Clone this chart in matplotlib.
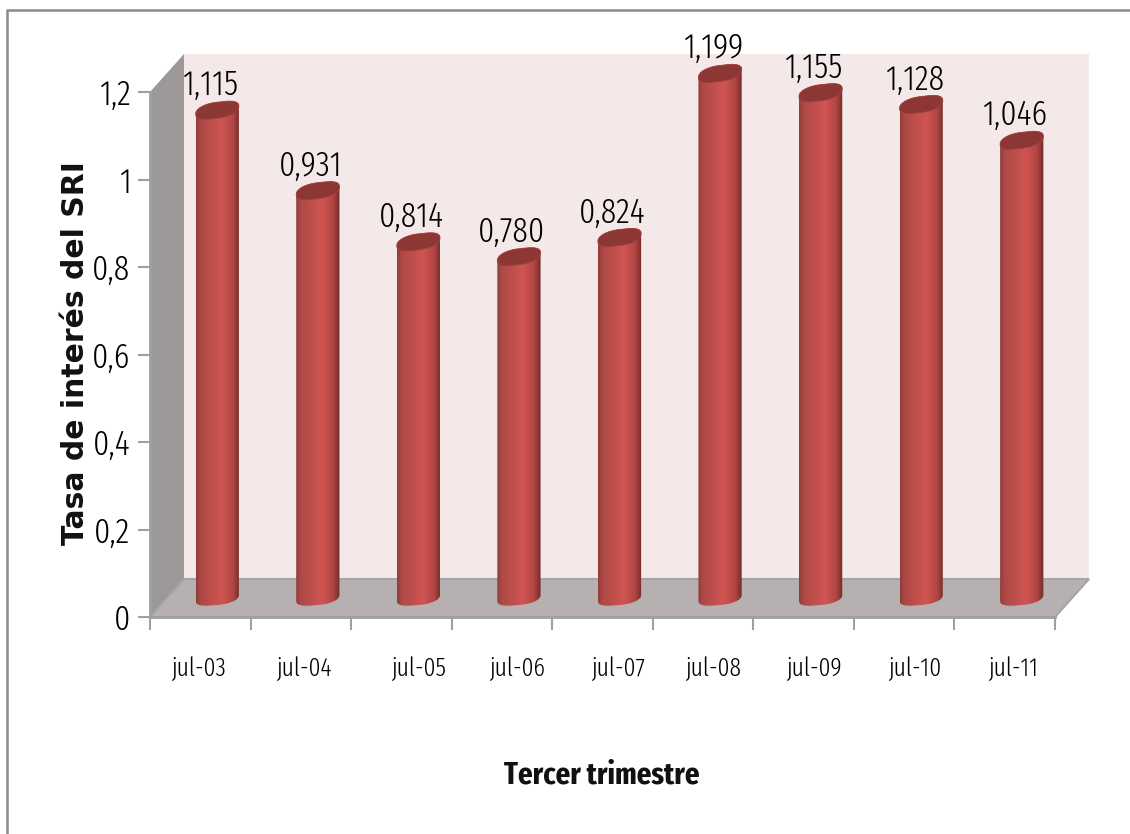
import numpy as np
import matplotlib
matplotlib.use("Agg")
import matplotlib.pyplot as plt
from matplotlib.colors import LinearSegmentedColormap
from matplotlib.patches import Polygon

# Quarterly rate by July reading
periods = ['jul-03', 'jul-04', 'jul-05', 'jul-06', 'jul-07', 'jul-08', 'jul-09', 'jul-10', 'jul-11']
rates = [1.115, 0.931, 0.814, 0.780, 0.824, 1.199, 1.155, 1.128, 1.046]
rate_labels = ['1,115', '0,931', '0,814', '0,780', '0,824', '1,199', '1,155', '1,128', '1,046']
y_ticks = [0, 0.2, 0.4, 0.6, 0.8, 1, 1.2]
y_tick_labels = ['0', '0,2', '0,4', '0,6', '0,8', '1', '1,2']

W, H = 1130, 834
narrow = ['Fira Sans Extra Condensed', 'Liberation Sans']

fig = plt.figure(figsize=(W / 100, H / 100), dpi=100, facecolor='white')
# front plane of the 3D box
ax = fig.add_axes([150 / W, 1 - 617 / H, 905 / W, 525 / H])
ax.set_facecolor('none')
for s in ax.spines.values():
    s.set_visible(False)

n = len(periods)
px_x = 905 / n          # pixels per category
px_y = 525 / 1.2        # pixels per unit
dx = 34 / px_x          # depth offset of the back wall
dy = 38 / px_y
GRAY = '#a0a0a0'

# walls and floor
ax.add_patch(Polygon([(dx, dy), (n + dx, dy), (n + dx, 1.2 + dy), (dx, 1.2 + dy)],
                     fc='#f4e8e8', ec='none', clip_on=False, zorder=1))
ax.add_patch(Polygon([(0, 0), (dx, dy), (dx, 1.2 + dy), (0, 1.2)],
                     fc='#9c9898', ec='none', clip_on=False, zorder=1))
ax.add_patch(Polygon([(0, 0), (n, 0), (n + dx, dy), (dx, dy)],
                     fc='#b7b0b0', ec='#a6a4a4', lw=1.5, clip_on=False, zorder=1))

cyl = LinearSegmentedColormap.from_list('cyl', [(0, '#8e3d3a'), (0.1, '#ad4946'), (0.6, '#d05552'),
                                                (0.85, '#b04542'), (1, '#702c2a')])
grad = np.linspace(0, 1, 128).reshape(1, -1)

half_w = 0.215          # bar half width, in categories


def ellipse_pts(cx, cy, t, h_px, tilt_px):
    # slightly squared ellipse, right side raised
    c, s = np.cos(t), np.sin(t)
    return np.column_stack([cx + half_w * np.sign(c) * np.abs(c) ** 0.8,
                            cy + h_px / px_y * np.sign(s) * np.abs(s) ** 0.85 + tilt_px / px_y * c])


for i, (v, lab) in enumerate(zip(rates, rate_labels)):
    cx = i + 0.5 + dx / 2
    base = dy / 2
    top = base + v
    # body: bottom arc, then back along the top arc
    bottom_arc = ellipse_pts(cx, base, np.linspace(np.pi, 2 * np.pi, 40), 7, 3)
    top_arc = ellipse_pts(cx, top, np.linspace(0, np.pi, 40), 8, 4)
    body = Polygon(np.vstack([bottom_arc, top_arc]), fc='none', ec='none')
    ax.add_patch(body)
    im = ax.imshow(grad, extent=(cx - half_w, cx + half_w, base - 0.05, top + 0.05),
                   aspect='auto', cmap=cyl, zorder=3)
    im.set_clip_box(fig.bbox)
    im.set_clip_path(body)
    ax.add_patch(Polygon(ellipse_pts(cx, top, np.linspace(0, 2 * np.pi, 60), 8, 4),
                         fc='#8d3735', ec='#a04240', lw=0.6, clip_on=False, zorder=4))
    ax.text(cx - 0.07, top + 15 / px_y, lab, ha='center', va='baseline', fontsize=25,
            family=narrow, fontweight=300, color='#000000', clip_on=False, zorder=5)

ax.set_xlim(0, n)
ax.set_ylim(0, 1.2)
ax.set_xticks(range(n + 1))
ax.set_xticklabels([])
ax.set_yticks(y_ticks)
ax.set_yticklabels(y_tick_labels, fontsize=25, family=narrow, fontweight=300, color='#000000')
ax.tick_params(axis='both', length=9, width=1.5, color=GRAY, pad=5)
for side in ['left', 'bottom']:
    ax.spines[side].set_visible(True)
    ax.spines[side].set_color(GRAY)
    ax.spines[side].set_linewidth(2)

# category labels sit well below the ticks
label_x = [0.48, 1.53, 2.67, 3.65, 4.65, 5.6, 6.6, 7.6, 8.58]
for x, p in zip(label_x, periods):
    ax.annotate(p, (x, 0), xytext=(0, -28), textcoords='offset points', ha='center', va='top',
                fontsize=18.5, family=narrow, fontweight=300, color='#000000')

fig.text(602 / W, 1 - 775 / H, 'Tercer trimestre', ha='center', va='center', fontsize=22.5,
         family=narrow, fontweight='bold', color='#111111')
fig.text(76 / W, 1 - 353 / H, 'Tasa de interés del SRI', rotation=90, ha='center', va='center',
         fontsize=21.5, family='DejaVu Sans', fontweight='bold', color='#111111')

# outer chart frame
fig.add_artist(plt.Line2D([7 / W, 7 / W, 1], [0, 1 - 10 / H, 1 - 10 / H], color='#8a8a8a', lw=1.8))

fig.savefig('out.png', dpi=100)
